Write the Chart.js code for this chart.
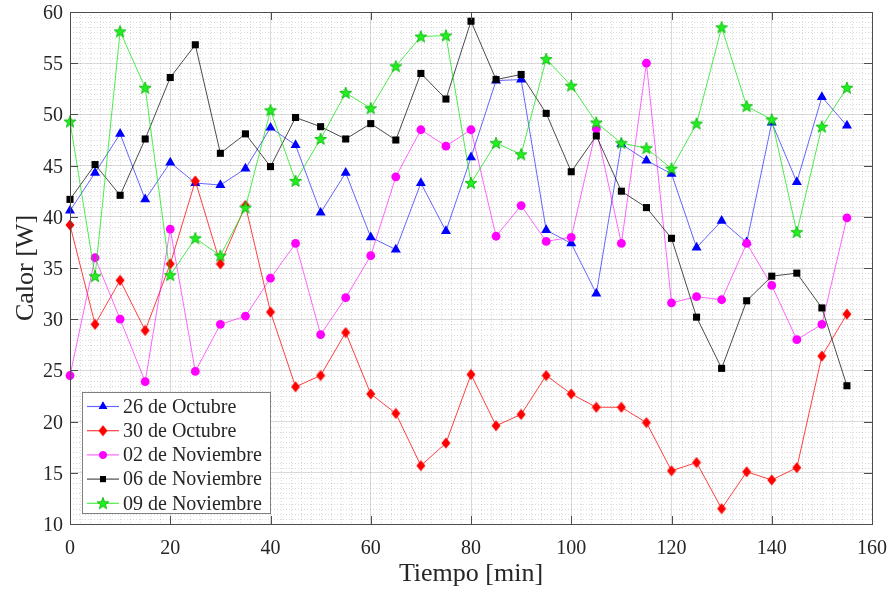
<!DOCTYPE html>
<html>
<head>
<meta charset="utf-8">
<script src="https://cdn.jsdelivr.net/npm/chart.js@4.4.1/dist/chart.umd.min.js"></script>
<style>
  html, body { margin: 0; padding: 0; background: #fff; }
</style>
</head>
<body>
<canvas id="chart-calor" width="891" height="591"></canvas>
<script>
// ---- data ----
const tiempo = [0, 5, 10, 15, 20, 25, 30, 35, 40, 45, 50, 55, 60, 65, 70, 75,
                80, 85, 90, 95, 100, 105, 110, 115, 120, 125, 130, 135, 140, 145, 150, 155];
const oct26 = [40.6, 44.3, 48.1, 41.7, 45.3, 43.3, 43.1, 44.7, 48.7, 47.0, 40.4, 44.3, 38.0, 36.8, 43.3, 38.6,
               45.8, 53.3, 53.4, 38.7, 37.4, 32.5, 47.1, 45.5, 44.2, 37.0, 39.6, 37.5, 49.2, 43.4, 51.7, 48.9];
const oct30 = [39.2, 29.5, 33.8, 28.9, 35.4, 43.5, 35.4, 41.1, 30.7, 23.4, 24.5, 28.7, 22.7, 20.8, 15.7, 17.9,
               24.6, 19.6, 20.7, 24.5, 22.7, 21.4, 21.4, 19.9, 15.2, 16.0, 11.5, 15.1, 14.3, 15.5, 26.4, 30.5];
const nov02 = [24.5, 36.0, 30.0, 23.9, 38.8, 24.9, 29.5, 30.3, 34.0, 37.4, 28.5, 32.1, 36.2, 43.9, 48.5, 46.9,
               48.5, 38.1, 41.1, 37.6, 38.0, 48.6, 37.4, 55.0, 31.6, 32.2, 31.9, 37.4, 33.3, 28.0, 29.5, 39.9];
const nov06 = [41.7, 45.1, 42.1, 47.6, 53.6, 56.8, 46.2, 48.1, 44.9, 49.7, 48.8, 47.6, 49.1, 47.5, 54.0, 51.5,
               59.1, 53.4, 53.9, 50.1, 44.4, 47.9, 42.5, 40.9, 37.9, 30.2, 25.2, 31.8, 34.2, 34.5, 31.1, 23.5];
const nov09 = [49.3, 34.2, 58.1, 52.6, 34.3, 37.9, 36.2, 40.9, 50.4, 43.5, 47.6, 52.1, 50.6, 54.7, 57.6, 57.7,
               43.3, 47.2, 46.1, 55.4, 52.8, 49.2, 47.2, 46.7, 44.7, 49.1, 58.5, 50.8, 49.5, 38.5, 48.8, 52.6];
const seriesNames = ['26 de Octubre', '30 de Octubre', '02 de Noviembre', '06 de Noviembre', '09 de Noviembre'];

const FONT = "'Liberation Serif', 'Times New Roman', serif";
const TXT = '#262626';
Chart.defaults.font.family = FONT;

// MATLAB-like marker images (tall diamond, filled pentagram)
function diamondImg(color) {
  const c = document.createElement('canvas'); c.width = 10; c.height = 12;
  const g = c.getContext('2d');
  g.beginPath(); g.moveTo(5, 0.5); g.lineTo(9.5, 6); g.lineTo(5, 11.5); g.lineTo(0.5, 6); g.closePath();
  g.fillStyle = color; g.fill();
  return c;
}
function starImg(fill, edge) {
  const c = document.createElement('canvas'); c.width = 14; c.height = 14;
  const g = c.getContext('2d');
  g.beginPath();
  for (let i = 0; i < 10; i++) {
    const r = i % 2 ? 2.6 : 6.3, a = -Math.PI / 2 + i * Math.PI / 5;
    g.lineTo(7 + r * Math.cos(a), 7.4 + r * Math.sin(a));
  }
  g.closePath(); g.fillStyle = fill; g.fill(); g.strokeStyle = edge; g.lineWidth = 0.8; g.stroke();
  return c;
}

const styles = [
  { line: 'rgba(0,0,255,0.6)',   mark: '#0000ff', point: 'triangle', r: 5.8 },
  { line: 'rgba(255,0,0,0.75)',  mark: '#ff0000', point: diamondImg('#ff0000'), r: 5 },
  { line: 'rgba(255,0,255,0.6)', mark: '#ff00ff', point: 'circle', r: 4.4 },
  { line: 'rgba(0,0,0,0.7)',     mark: '#000000', point: 'rect', r: 5 },
  { line: 'rgba(0,230,0,0.7)',   mark: '#00ff00', point: starImg('#22ee22', '#00b400'), r: 6 },
];
const values = [oct26, oct30, nov02, nov06, nov09];

const datasets = values.map((vals, i) => ({
  label: seriesNames[i],
  data: tiempo.map((t, k) => ({ x: t, y: vals[k] })),
  borderColor: styles[i].line, borderWidth: 1,
  backgroundColor: styles[i].mark, pointBackgroundColor: styles[i].mark,
  pointBorderColor: styles[i].mark, pointBorderWidth: 0,
  pointStyle: styles[i].point, pointRadius: styles[i].r, pointHoverRadius: styles[i].r,
  tension: 0, fill: false, clip: false,
  order: values.length - i,
}));

// minor grid, inward ticks, box, tick labels, titles and legend drawn MATLAB-style
const matlabAxes = {
  id: 'matlabAxes',
  beforeDatasetsDraw(chart) {
    const { ctx, chartArea: a, scales: { x, y } } = chart;
    ctx.save();
    ctx.strokeStyle = 'rgba(0,0,0,0.14)'; ctx.lineWidth = 1; ctx.setLineDash([1, 2]);
    ctx.beginPath();
    for (let v = 2; v < 160; v += 2) {
      if (v % 20 === 0) continue;
      const px = Math.round(x.getPixelForValue(v)) + 0.5;
      ctx.moveTo(px, a.top); ctx.lineTo(px, a.bottom);
    }
    for (let v = 10.5; v < 60; v += 0.5) {
      if (v % 5 === 0) continue;
      const py = Math.round(y.getPixelForValue(v)) + 0.5;
      ctx.moveTo(a.left, py); ctx.lineTo(a.right, py);
    }
    ctx.stroke();
    ctx.restore();
  },
  afterDatasetsDraw(chart) {
    const { ctx, chartArea: a, scales: { x, y } } = chart;
    ctx.save();
    ctx.strokeStyle = '#4d4d4d'; ctx.lineWidth = 1;
    ctx.beginPath();
    x.ticks.forEach(t => {
      const px = Math.round(x.getPixelForValue(t.value)) + 0.5;
      ctx.moveTo(px, a.bottom); ctx.lineTo(px, a.bottom - 8);
      ctx.moveTo(px, a.top); ctx.lineTo(px, a.top + 8);
    });
    y.ticks.forEach(t => {
      const py = Math.round(y.getPixelForValue(t.value)) + 0.5;
      ctx.moveTo(a.left, py); ctx.lineTo(a.left + 8, py);
      ctx.moveTo(a.right, py); ctx.lineTo(a.right - 8, py);
    });
    ctx.stroke();
    ctx.strokeRect(Math.round(a.left) + 0.5, Math.round(a.top) + 0.5,
                   Math.round(a.right - a.left), Math.round(a.bottom - a.top));
    ctx.restore();
  },
  afterDraw(chart) {
    const { ctx, chartArea: a, scales: { x, y } } = chart;
    ctx.save();
    ctx.fillStyle = TXT;
    ctx.font = '20px ' + FONT;
    ctx.textBaseline = 'alphabetic';
    ctx.textAlign = 'center';
    x.ticks.forEach(t => ctx.fillText(String(t.value), x.getPixelForValue(t.value), a.bottom + 30));
    ctx.textAlign = 'right';
    y.ticks.forEach(t => ctx.fillText(String(t.value), a.left - 7, y.getPixelForValue(t.value) + 7));

    ctx.font = '26px ' + FONT;
    ctx.textAlign = 'center'; ctx.textBaseline = 'middle';
    ctx.fillText('Tiempo [min]', (a.left + a.right) / 2, 574);
    ctx.translate(26, (a.top + a.bottom) / 2);
    ctx.rotate(-Math.PI / 2);
    ctx.fillText('Calor [W]', 0, 0);
    ctx.restore();

    // legend box, lower left inside the axes
    const bx = 82.5, by = 392.5, bw = 188, bh = 121;
    ctx.save();
    ctx.fillStyle = '#fff'; ctx.fillRect(bx, by, bw, bh);
    ctx.strokeStyle = '#7f7f7f'; ctx.lineWidth = 1; ctx.strokeRect(bx, by, bw, bh);
    ctx.font = '20px ' + FONT; ctx.textAlign = 'left'; ctx.textBaseline = 'middle';
    seriesNames.forEach((name, i) => {
      const ry = by + 14 + i * 24.2;
      ctx.strokeStyle = styles[i].line; ctx.lineWidth = 1.2;
      ctx.beginPath(); ctx.moveTo(87, ry); ctx.lineTo(119, ry); ctx.stroke();
      ctx.fillStyle = styles[i].mark;
      Chart.helpers.drawPoint(ctx, { pointStyle: styles[i].point, radius: styles[i].r * 0.85, borderWidth: 0 }, 103, ry);
      ctx.fill();
      ctx.fillStyle = TXT;
      ctx.fillText(name, 123, ry + 1);
    });
    ctx.restore();
  },
};

new Chart(document.getElementById('chart-calor'), {
  type: 'line',
  data: { datasets },
  options: {
    responsive: false, animation: false, devicePixelRatio: 1,
    layout: { padding: { top: 12, right: 19, left: 0, bottom: 0 } },
    plugins: { legend: { display: false }, tooltip: { enabled: false } },
    scales: {
      x: {
        type: 'linear', min: 0, max: 160,
        ticks: { stepSize: 20, display: false },
        grid: { color: 'rgba(0,0,0,0.15)', drawTicks: false },
        border: { display: false },
        afterFit: s => { s.height = 67; s.paddingLeft = 0; s.paddingRight = 0; },
      },
      y: {
        min: 10, max: 60,
        ticks: { stepSize: 5, display: false },
        grid: { color: 'rgba(0,0,0,0.15)', drawTicks: false },
        border: { display: false },
        afterFit: s => { s.width = 70; s.paddingTop = 0; s.paddingBottom = 0; },
      },
    },
  },
  plugins: [matlabAxes],
});
</script>
</body>
</html>
